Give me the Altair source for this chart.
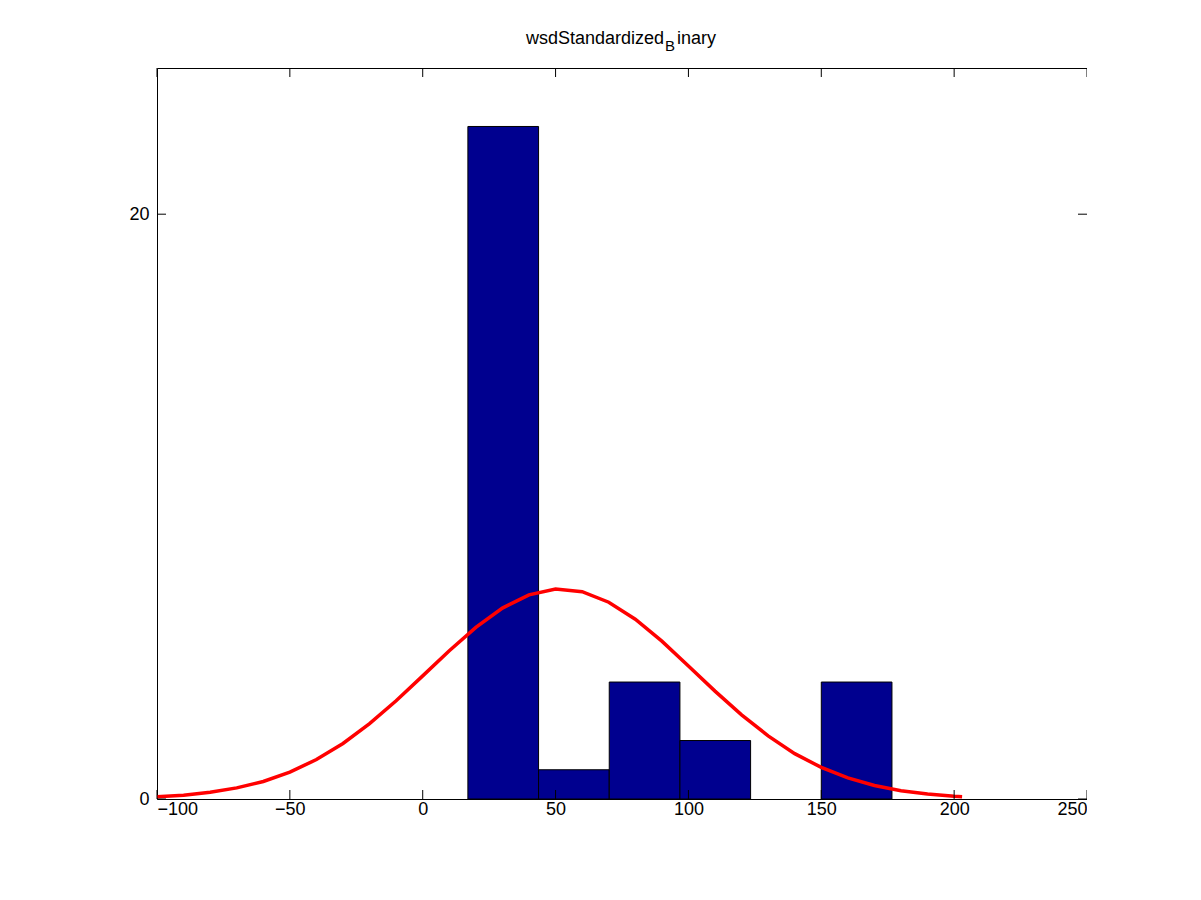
import altair as alt
import pandas as pd

# histogram bins
bin_left = [17.0, 43.6, 70.2, 96.8, 123.4, 150.0]
bin_right = [43.6, 70.2, 96.8, 123.4, 150.0, 176.6]
counts = [23, 1, 4, 2, 0, 4]

# fitted normal curve, read at steps of 10
curve_x = [-100, -90, -80, -70, -60, -50, -40, -30, -20, -10, 0, 10, 20, 30, 40, 50,
           60, 70, 80, 90, 100, 110, 120, 130, 140, 150, 160, 170, 180, 190, 200, 203]
curve_y = [0.08, 0.13, 0.23, 0.38, 0.60, 0.92, 1.35, 1.90, 2.58, 3.36, 4.21, 5.07, 5.87,
           6.53, 6.98, 7.18, 7.09, 6.73, 6.15, 5.40, 4.55, 3.69, 2.88, 2.16, 1.55, 1.08,
           0.72, 0.46, 0.28, 0.17, 0.095, 0.08]

x_ticks = [-100, -50, 0, 50, 100, 150, 200, 250]
y_ticks = [0, 20]

W, H = 930, 731
xs = alt.Scale(domain=[-100, 250], nice=False, zero=False)
ys = alt.Scale(domain=[0, 25], nice=False)
font = "Liberation Sans"

bars_df = pd.DataFrame({"l": bin_left, "r": bin_right, "n": counts})
bars_df = bars_df[bars_df.n > 0]
curve_df = pd.DataFrame({"x": curve_x, "y": curve_y})
xt = pd.DataFrame({"t": x_ticks})
yt = pd.DataFrame({"t": y_ticks})

bars = alt.Chart(bars_df).mark_rect(color="#00008f", stroke="black", strokeWidth=1).encode(
    x=alt.X("l:Q", scale=xs, axis=alt.Axis(values=x_ticks, title=None, grid=False, domain=False,
                                           tickSize=0, labelFontSize=18, labelFont=font,
                                           labelColor="black", labelPadding=1)),
    x2="r:Q",
    y=alt.Y("n:Q", scale=ys, axis=alt.Axis(values=y_ticks, title=None, grid=False, domain=False,
                                           tickSize=0, labelFontSize=18, labelFont=font,
                                           labelColor="black", labelPadding=8)),
    y2=alt.datum(0),
)

curve = alt.Chart(curve_df).mark_line(color="red", strokeWidth=3.5).encode(
    x=alt.X("x:Q", scale=xs), y=alt.Y("y:Q", scale=ys)
)

xb = alt.Chart(xt).mark_rule(color="black").encode(x=alt.X("t:Q", scale=xs), y=alt.value(H), y2=alt.value(H - 9))
xtop = alt.Chart(xt).mark_rule(color="black").encode(x=alt.X("t:Q", scale=xs), y=alt.value(0), y2=alt.value(9))
yl = alt.Chart(yt).mark_rule(color="black").encode(y=alt.Y("t:Q", scale=ys), x=alt.value(0), x2=alt.value(9))
yr = alt.Chart(yt).mark_rule(color="black").encode(y=alt.Y("t:Q", scale=ys), x=alt.value(W), x2=alt.value(W - 9))

t1 = alt.Chart(pd.DataFrame({"s": ["wsdStandardized"]})).mark_text(
    align="right", baseline="alphabetic", fontSize=18, font=font, color="black"
).encode(text="s:N", x=alt.value(507), y=alt.value(-24))
t2 = alt.Chart(pd.DataFrame({"s": ["B"]})).mark_text(
    align="left", baseline="alphabetic", fontSize=15, font=font, color="black"
).encode(text="s:N", x=alt.value(508), y=alt.value(-17))
t3 = alt.Chart(pd.DataFrame({"s": ["inary"]})).mark_text(
    align="left", baseline="alphabetic", fontSize=18, font=font, color="black"
).encode(text="s:N", x=alt.value(520), y=alt.value(-24))

chart = alt.layer(bars, curve, xb, xtop, yl, yr, t1, t2, t3).properties(
    width=W, height=H,
    autosize=alt.AutoSizeParams(type="none"),
    padding={"left": 149, "top": 60, "right": 0, "bottom": 90},
    background="white",
).configure_view(stroke="black", strokeWidth=1)

chart.save("out.html", embed_options={"renderer": "svg", "actions": False})
